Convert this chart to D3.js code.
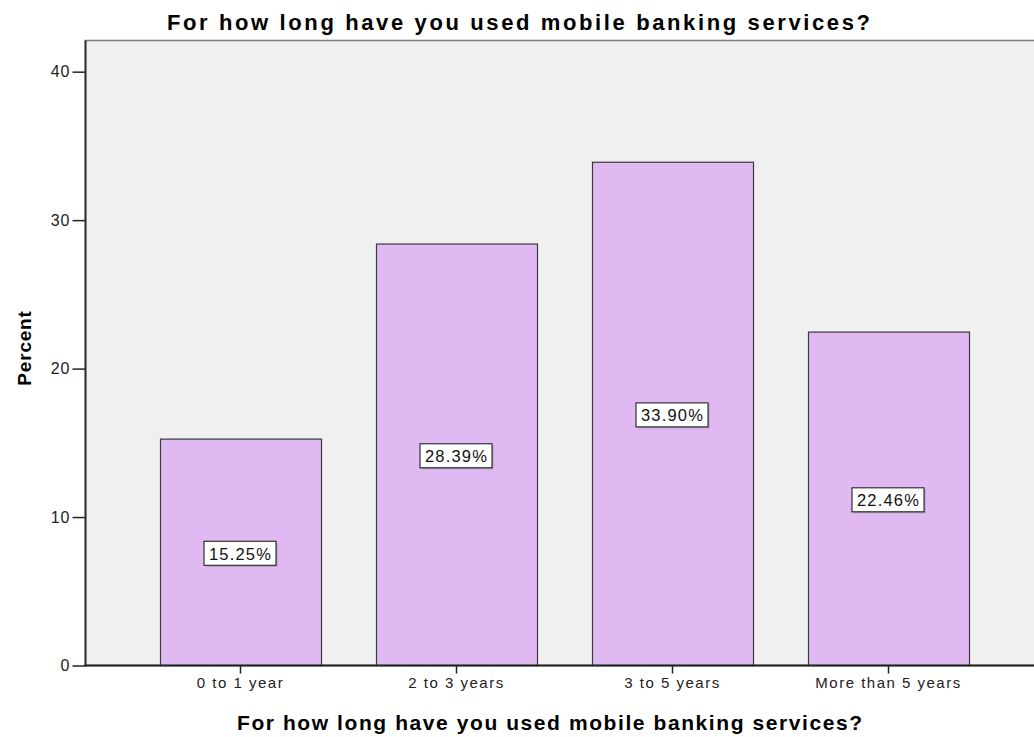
<!DOCTYPE html>
<html>
<head>
<meta charset="utf-8">
<script src="https://cdn.jsdelivr.net/npm/d3@7"></script>
<style>
  html, body { margin: 0; padding: 0; background: #fff; }
  svg { display: block; font-family: "Liberation Sans", Arial, sans-serif; }
</style>
</head>
<body>
<svg id="chart" width="1034" height="737"></svg>
<script>
// Survey responses: share of respondents by duration of mobile banking use
const categories = ["0 to 1 year", "2 to 3 years", "3 to 5 years", "More than 5 years"];
const percents = [15.25, 28.39, 33.90, 22.46];
const yTicks = [0, 10, 20, 30, 40];
const chartTitle = "For how long have you used mobile banking services?";
const xTitle = "For how long have you used mobile banking services?";
const yTitle = "Percent";

const svg = d3.select("#chart");
const W = 1034, H = 737;
const plot = { left: 85.5, top: 40.5, right: 1040, bottom: 665.5 };

const x = d3.scaleBand()
  .domain(categories)
  .range([132.5, 996.5])
  .paddingInner(0.255)
  .paddingOuter(0.1275);

const y = d3.scaleLinear()
  .domain([0, 42.1])
  .range([plot.bottom, plot.top]);

// plot background
svg.append("rect")
  .attr("x", plot.left).attr("y", plot.top)
  .attr("width", plot.right - plot.left).attr("height", plot.bottom - plot.top)
  .attr("fill", "#f0f0f0")
  .attr("stroke", "#7a7a7a").attr("stroke-width", 1.5);

// bars
svg.append("g").selectAll("rect")
  .data(categories)
  .join("rect")
  .attr("x", d => Math.round(x(d)) + 0.5)
  .attr("y", (d, i) => y(percents[i]))
  .attr("width", Math.round(x.bandwidth()))
  .attr("height", (d, i) => y(0) - y(percents[i]))
  .attr("fill", "#e0b8f2")
  .attr("stroke", "#3a3a3a")
  .attr("stroke-width", 1.2);

// value labels at mid-height of each bar
const labels = svg.append("g").selectAll("g")
  .data(categories)
  .join("g")
  .attr("transform", (d, i) => `translate(${x(d) + x.bandwidth() / 2},${y(percents[i] / 2) + 1.5})`);

labels.append("rect")
  .attr("x", -35).attr("y", -11)
  .attr("width", 72).attr("height", 24)
  .attr("fill", "#7a7a7a")
  .attr("opacity", 0.5);
labels.append("rect")
  .attr("x", -36.5).attr("y", -12.5)
  .attr("width", 72).attr("height", 24)
  .attr("fill", "#ffffff")
  .attr("stroke", "#333")
  .attr("stroke-width", 1.2);
labels.append("text")
  .attr("x", 0).attr("y", 6)
  .attr("text-anchor", "middle")
  .attr("font-size", 16.5)
  .attr("letter-spacing", 1.2)
  .attr("fill", "#111")
  .text((d, i) => percents[i].toFixed(2) + "%");

// y axis
const yAxis = svg.append("g")
  .attr("transform", `translate(${plot.left},0)`)
  .call(d3.axisLeft(y).tickValues(yTicks).tickSize(13).tickSizeOuter(0).tickPadding(2));
yAxis.select(".domain").remove();
yAxis.selectAll(".tick line").attr("stroke", "#222").attr("stroke-width", 1.5);
yAxis.selectAll(".tick text").attr("font-size", 16).attr("fill", "#222")
  .attr("letter-spacing", 1)
  .attr("font-family", "Liberation Sans, Arial, sans-serif");
svg.append("line")
  .attr("x1", plot.left).attr("x2", plot.left)
  .attr("y1", plot.top).attr("y2", plot.bottom)
  .attr("stroke", "#333").attr("stroke-width", 2);

// x axis
const xAxis = svg.append("g")
  .attr("transform", `translate(0,${plot.bottom})`)
  .call(d3.axisBottom(x).tickSize(8).tickSizeOuter(0).tickPadding(4));
xAxis.select(".domain").remove();
xAxis.selectAll(".tick line").attr("stroke", "#222").attr("stroke-width", 1.5);
xAxis.selectAll(".tick text").attr("font-size", 15).attr("fill", "#222")
  .attr("letter-spacing", 1.5)
  .attr("font-family", "Liberation Sans, Arial, sans-serif");
svg.append("line")
  .attr("x1", plot.left - 1).attr("x2", W)
  .attr("y1", plot.bottom).attr("y2", plot.bottom)
  .attr("stroke", "#222").attr("stroke-width", 2);

// titles
svg.append("text")
  .attr("x", 167).attr("y", 30)
  .attr("font-size", 22).attr("font-weight", "bold")
  .attr("textLength", 703).attr("lengthAdjust", "spacing")
  .attr("fill", "#000")
  .text(chartTitle);

svg.append("text")
  .attr("x", 237).attr("y", 730)
  .attr("font-size", 21).attr("font-weight", "bold")
  .attr("textLength", 625).attr("lengthAdjust", "spacing")
  .attr("fill", "#000")
  .text(xTitle);

svg.append("text")
  .attr("transform", `translate(31,348) rotate(-90)`)
  .attr("text-anchor", "middle")
  .attr("font-size", 19).attr("font-weight", "bold")
  .attr("letter-spacing", 0.8)
  .attr("fill", "#000")
  .text(yTitle);
</script>
</body>
</html>
